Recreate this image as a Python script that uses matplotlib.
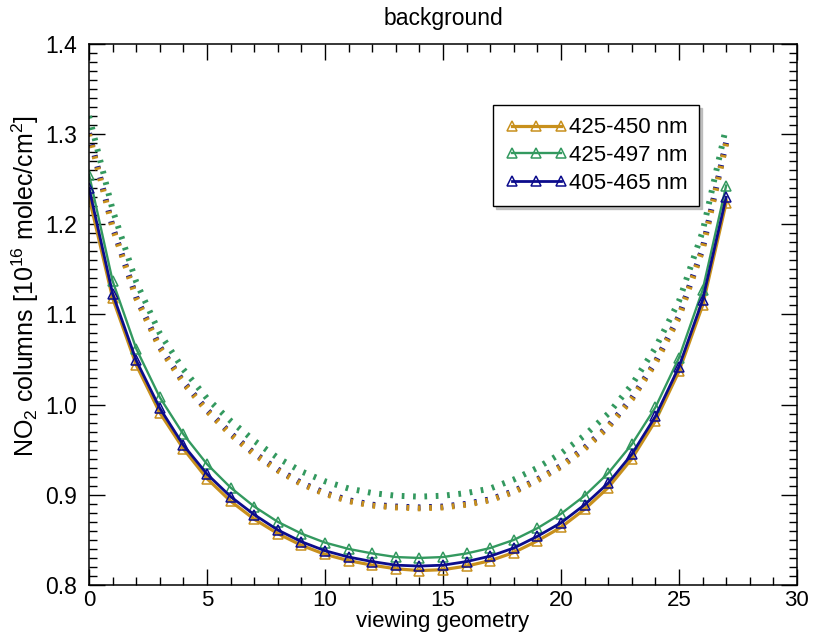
import matplotlib
matplotlib.use('Agg')
import matplotlib.pyplot as plt
import numpy as np

plt.rcParams['font.family'] = ['Liberation Sans', 'DejaVu Sans']
plt.rcParams['mathtext.fontset'] = 'custom'
plt.rcParams['mathtext.rm'] = 'Liberation Sans'
plt.rcParams['mathtext.it'] = 'Liberation Sans'

NARROW = ['Liberation Sans Narrow', 'Liberation Sans']

# viewing geometry index
geom = np.arange(28)

labels = ['425-450 nm', '425-497 nm', '405-465 nm']
colors = ['#c8901c', '#33995f', '#0c0c8c']

# solid lines with triangles
col_425_450 = [1.230, 1.118, 1.044, 0.991, 0.951, 0.918, 0.893, 0.873, 0.857, 0.844,
               0.834, 0.827, 0.822, 0.818, 0.816, 0.817, 0.821, 0.827, 0.836, 0.849,
               0.864, 0.884, 0.908, 0.940, 0.982, 1.037, 1.110, 1.224]
col_425_497 = [1.255, 1.137, 1.062, 1.008, 0.967, 0.934, 0.908, 0.887, 0.870, 0.857,
               0.847, 0.840, 0.835, 0.831, 0.830, 0.831, 0.835, 0.841, 0.850, 0.863,
               0.879, 0.899, 0.924, 0.956, 0.997, 1.052, 1.127, 1.243]
col_405_465 = [1.240, 1.123, 1.049, 0.996, 0.955, 0.923, 0.898, 0.878, 0.861, 0.848,
               0.838, 0.831, 0.826, 0.822, 0.821, 0.822, 0.826, 0.832, 0.841, 0.854,
               0.869, 0.889, 0.913, 0.945, 0.987, 1.042, 1.116, 1.230]

# dotted lines
dot_425_450 = [1.300, 1.196, 1.118, 1.063, 1.024, 0.993, 0.967, 0.945, 0.927, 0.912,
               0.901, 0.893, 0.888, 0.886, 0.885, 0.886, 0.889, 0.894, 0.903, 0.916,
               0.931, 0.951, 0.975, 1.006, 1.046, 1.097, 1.172, 1.290]
dot_425_497 = [1.320, 1.216, 1.136, 1.079, 1.039, 1.007, 0.982, 0.960, 0.941, 0.926,
               0.915, 0.907, 0.902, 0.899, 0.898, 0.899, 0.902, 0.907, 0.917, 0.930,
               0.946, 0.966, 0.990, 1.022, 1.063, 1.115, 1.192, 1.308]
dot_405_465 = [1.301, 1.197, 1.119, 1.064, 1.025, 0.994, 0.968, 0.946, 0.928, 0.913,
               0.902, 0.894, 0.889, 0.887, 0.886, 0.887, 0.890, 0.895, 0.904, 0.917,
               0.932, 0.952, 0.976, 1.007, 1.047, 1.098, 1.173, 1.291]

fig = plt.figure(figsize=(8.17, 6.43), dpi=100)
ax = fig.add_axes([0.109, 0.0902, 0.8665, 0.8414])

# dotted
for vals, c in zip([dot_405_465, dot_425_497, dot_425_450], [colors[2], colors[1], colors[0]]):
    ln, = ax.plot(geom, vals, color=c, lw=4.3)
    ln.set_dashes((0.45, 1.45))
    ln.set_dash_capstyle('butt')

# solid
solid = [col_425_450, col_425_497, col_405_465]
widths = [2.3, 1.7, 2.0]
for vals, c, lab, w in zip(solid, colors, labels, widths):
    ax.plot(geom, vals, color=c, lw=w, marker='^', markersize=7,
            markerfacecolor='none', markeredgecolor=c, markeredgewidth=1.1, label=lab)

ax.set_xlim(0, 30)
ax.set_ylim(0.8, 1.4)
ax.set_xticks(np.arange(0, 31, 5))
ax.set_xticks(np.arange(0, 31, 1), minor=True)
ax.set_yticks(np.arange(0.8, 1.41, 0.1))
ax.set_yticks(np.arange(0.8, 1.401, 0.01), minor=True)
ax.set_yticklabels(['%.1f' % v for v in np.arange(0.8, 1.41, 0.1)])

ax.tick_params(which='both', direction='in', top=True, right=True, width=1.0)
ax.tick_params(which='major', length=11.5)
ax.tick_params(which='minor', length=5.8)
ax.tick_params(axis='y', labelsize=16.5, pad=8.5)
ax.tick_params(axis='x', labelsize=16, pad=3.5)
for lbl in ax.get_xticklabels():
    lbl.set_family(NARROW)
for s in ax.spines.values():
    s.set_linewidth(1.1)

ax.set_xlabel('viewing geometry', fontsize=16, labelpad=0, family=NARROW)
ax.set_ylabel(r'NO$_2$ columns [10$^{16}$ molec/cm$^2$]', fontsize=18)
ax.yaxis.set_label_coords(-0.068, 0.553)
ax.set_title('background', fontsize=16.5, pad=14)

leg = ax.legend(loc='upper left', bbox_to_anchor=(0.5706, 0.887), numpoints=3,
                handlelength=2.8, handletextpad=0.05, fontsize=16, frameon=True,
                fancybox=False, shadow={'color': '0.7', 'alpha': 0.8},
                borderpad=0.55, labelspacing=0.31, borderaxespad=0)
leg.get_frame().set_edgecolor('black')
leg.get_frame().set_linewidth(1.0)

fig.savefig('out.png', dpi=100)
